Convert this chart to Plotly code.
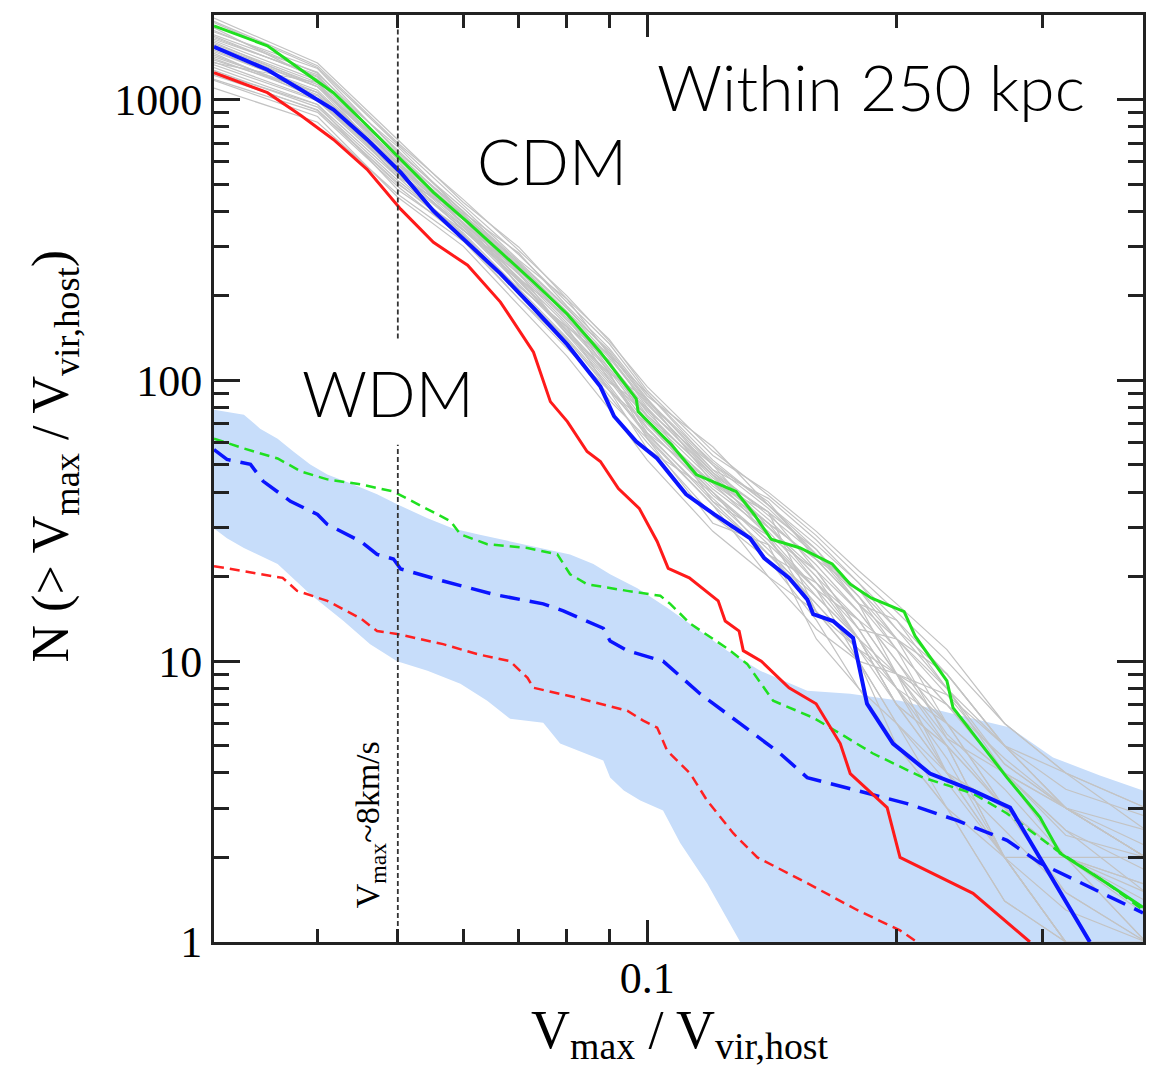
import plotly.graph_objects as go

# ---------------- data ----------------
# CDM median curves (solid)
green_x = [0.0300, 0.0348, 0.0382, 0.0418, 0.0459, 0.0504, 0.0552, 0.0607, 0.0665, 0.0729, 0.0801, 0.0878, 0.0970, 0.0975, 0.1069, 0.1146, 0.1280, 0.1346, 0.1411, 0.1530, 0.1672, 0.1758, 0.1863, 0.2042, 0.2105, 0.2300, 0.2339, 0.2473, 0.2718, 0.2979, 0.3149, 0.3588, 0.3966]
green_y = [1829, 1554, 1277, 1058, 808, 612, 467, 366, 286, 224, 172, 126, 86.0, 77.4, 59.1, 46.2, 40.2, 33.3, 27.2, 25.3, 22.2, 18.8, 16.8, 15.0, 12.3, 8.51, 6.83, 5.52, 3.85, 2.78, 2.07, 1.62, 1.33]

blue_x = [0.0300, 0.0348, 0.0382, 0.0418, 0.0459, 0.0504, 0.0552, 0.0607, 0.0665, 0.0729, 0.0801, 0.0878, 0.0912, 0.0970, 0.1028, 0.1114, 0.1205, 0.1331, 0.1384, 0.1483, 0.1560, 0.1586, 0.1676, 0.1772, 0.1842, 0.1980, 0.2194, 0.2473, 0.2741, 0.3422]
blue_y = [1541, 1277, 1084, 921, 721, 550, 401, 310, 240, 181, 134, 95, 74.5, 60.5, 52.7, 39.3, 33.3, 27.4, 23.3, 19.8, 16.6, 14.7, 13.9, 12.1, 7.05, 5.09, 3.98, 3.46, 3.01, 1.0]

red_x = [0.0300, 0.0348, 0.0382, 0.0418, 0.0459, 0.0504, 0.0552, 0.0607, 0.0665, 0.0729, 0.0764, 0.0801, 0.0846, 0.0878, 0.0923, 0.0978, 0.1028, 0.1060, 0.1124, 0.1218, 0.1242, 0.1291, 0.1306, 0.1373, 0.1483, 0.1599, 0.1710, 0.1758, 0.1948, 0.2019, 0.2473, 0.2897]
red_y = [1246, 1058, 877, 721, 564, 407, 310, 257, 190, 126, 84.0, 71.3, 55.8, 51.4, 41.2, 35.0, 26.7, 21.4, 19.8, 16.4, 13.9, 12.8, 10.9, 10.0, 8.04, 7.05, 5.09, 3.98, 3.01, 2.0, 1.49, 1.0]

# WDM curves (dashed)
gd_x = [0.0300, 0.0326, 0.0358, 0.0382, 0.0411, 0.0451, 0.0494, 0.0528, 0.0579, 0.0595, 0.0641, 0.0717, 0.0779, 0.0807, 0.0846, 0.0946, 0.1037, 0.1066, 0.1127, 0.1249, 0.1320, 0.1419, 0.1586, 0.1710, 0.1873, 0.2152, 0.2473, 0.2718, 0.3123, 0.3588, 0.3966]
gd_y = [62.0, 57.2, 52.7, 47.4, 44.4, 42.6, 40.2, 36.2, 31.5, 28.3, 26.1, 25.3, 24.0, 20.4, 18.8, 17.8, 17.1, 16.0, 13.6, 11.1, 9.78, 7.23, 6.29, 5.52, 4.69, 3.85, 3.38, 2.87, 2.12, 1.62, 1.30]

bd_x = [0.0300, 0.0311, 0.0332, 0.0344, 0.0371, 0.0400, 0.0411, 0.0451, 0.0472, 0.0494, 0.0504, 0.0567, 0.0652, 0.0749, 0.0792, 0.0885, 0.0902, 0.0946, 0.1045, 0.1158, 0.1295, 0.1447, 0.1560, 0.1792, 0.2059, 0.2365, 0.2718, 0.2979, 0.3422, 0.3966]
bd_y = [56.7, 52.3, 50.2, 43.7, 37.1, 33.3, 30.7, 26.7, 24.0, 23.1, 21.3, 19.3, 17.3, 16.0, 15.1, 13.1, 11.8, 10.9, 10.0, 7.66, 5.99, 4.69, 3.85, 3.46, 3.11, 2.71, 2.30, 1.91, 1.57, 1.27]

rd_x = [0.0300, 0.0326, 0.0363, 0.0378, 0.0411, 0.0451, 0.0472, 0.0499, 0.0567, 0.0623, 0.0683, 0.0717, 0.0729, 0.0823, 0.0946, 0.0989, 0.1028, 0.1057, 0.1127, 0.1181, 0.1270, 0.1358, 0.1560, 0.1792, 0.2019, 0.2117]
rd_y = [21.8, 20.9, 19.8, 17.8, 16.4, 14.2, 12.8, 12.5, 11.5, 10.6, 10.0, 8.72, 8.04, 7.41, 6.66, 6.14, 5.80, 4.80, 3.98, 3.19, 2.44, 2.0, 1.62, 1.30, 1.10, 1.0]

# WDM host-to-host scatter band
band_up_x = [0.0300, 0.0326, 0.0341, 0.0358, 0.0374, 0.0392, 0.0411, 0.0442, 0.0472, 0.0499, 0.0543, 0.0583, 0.0624, 0.0683, 0.0749, 0.0807, 0.0861, 0.0902, 0.0973, 0.1057, 0.1158, 0.1249, 0.1369, 0.1560, 0.1758, 0.2019, 0.2385, 0.2741, 0.3089, 0.3519, 0.3966]
band_up_y = [78.6, 75.5, 67.3, 62.0, 55.8, 50.2, 46.2, 42.6, 39.3, 36.2, 32.3, 29.7, 28.3, 26.7, 25.3, 24.0, 22.2, 20.4, 18.2, 15.5, 12.8, 10.9, 9.24, 7.85, 7.66, 7.23, 6.40, 5.80, 4.54, 3.92, 3.46]
band_lo_x = [0.0300, 0.0311, 0.0326, 0.0358, 0.0392, 0.0430, 0.0463, 0.0499, 0.0543, 0.0595, 0.0641, 0.0683, 0.0749, 0.0785, 0.0885, 0.0902, 0.0937, 0.0981, 0.1045, 0.1096, 0.1181, 0.1295, 0.4000]
band_lo_y = [29.7, 27.4, 25.3, 22.2, 17.3, 13.9, 11.5, 10.0, 9.24, 8.31, 7.23, 6.24, 6.04, 5.09, 4.43, 3.85, 3.46, 3.19, 2.94, 2.25, 1.62, 1.0, 0.9]

# individual CDM hosts (grey)
gray_x = [0.03, 0.04, 0.05, 0.06, 0.07, 0.08, 0.09, 0.1, 0.12, 0.14, 0.16, 0.18, 0.2, 0.23, 0.27, 0.32, 0.4]
gray_hosts = [
    [1950, 1349, 719, 430, 298, 195, 140, 92, 54, 40, 29, 21, 16, 11, 6, 4, 3],
    [1740, 1290, 649, 410, 268, 195, 123, 90, 50, 37, 23, 18, 12, 9, 5, 3, 2.5],
    [1549, 1111, 615, 375, 241, 164, 114, 75, 46, 28, 21, 13, 12, 7.6, 4.3, 3, 2],
    [1382, 1060, 529, 392, 216, 155, 118, 70, 43, 31, 19, 14, 9, 5.3, 3, 2, 2],
    [1233, 914, 500, 342, 229, 146, 98, 80, 37, 28, 15, 10, 9, 4, 3, 2, 1.6],
    [1099, 830, 460, 313, 195, 130, 92, 57, 40, 24, 17, 12, 7, 5, 2, 1, 1],
    [1640, 1225, 586, 360, 255, 175, 106, 86, 43, 34, 15, 10, 6, 4, 2, 1, None],
    [1460, 1007, 560, 342, 241, 146, 106, 65, 37, 24, 19, 12, 9, 7.6, 5, 3, 2],
    [1300, 960, 477, 330, 205, 138, 85, 62, 31, 26, 12, 8, 5, 3, 2, 1, None],
    [1170, 870, 449, 300, 185, 122, 79, 52, 29, 20, 13, 10, 5, 3, 1.4, 1, None],
    [1800, 1180, 680, 395, 284, 184, 130, 88, 58, 36, 25, 16, 14, 8, 4.3, 3, 2],
    [1500, 1060, 600, 360, 230, 170, 100, 75, 46, 31, 23, 16, 9, 7, 4, 2.4, 2],
    [1350, 1150, 545, 375, 216, 155, 92, 65, 43, 28, 18, 14, 11, 5.3, 4, 3, 2],
    [1600, 1111, 560, 342, 250, 164, 123, 80, 46, 34, 21, 13, 8, 5, 2, 2, 1.25],
    [1250, 960, 529, 330, 205, 140, 92, 70, 40, 26, 18, 10, 6, 3.7, 2, 1.3, 1],
    [1420, 1060, 586, 375, 230, 150, 106, 62, 36, 20, 15, 11, 9, 6, 3, 2, 1.6],
    [1700, 1250, 620, 400, 260, 175, 128, 86, 48, 38, 27, 19, 14, 9, 5, 4, 2.5],
    [1180, 900, 490, 320, 195, 135, 88, 60, 33, 23, 14, 8, 6, 3, 1.4, 1, None],
    [1520, 1111, 640, 360, 245, 175, 110, 78, 50, 30, 20, 12, 7, 4, 3, 2, 1],
    [1880, 1300, 690, 420, 280, 190, 135, 90, 52, 36, 24, 16, 11, 7, 4, 3, 2],
    [1900, 1320, 700, 440, 290, 200, 138, 95, 56, 39, 28, 20, 15, 10, 6, 4, 3],
    [1680, 1200, 640, 390, 262, 180, 126, 84, 50, 35, 24, 17, 12, 8, 5, 3, 2],
    [1580, 1150, 600, 380, 250, 170, 116, 79, 47, 32, 22, 15, 10, 6, 3, 2, 1.5],
    [1480, 1080, 575, 365, 238, 160, 110, 74, 44, 30, 20, 14, 9, 5, 3, 1.5, 1],
    [1400, 1030, 555, 350, 226, 152, 104, 70, 41, 29, 19, 13, 8, 4, 2, 1, None],
    [1330, 990, 540, 345, 220, 148, 100, 67, 40, 27, 17, 12, 7, 4, 2.5, 1.5, 1],
    [1270, 940, 515, 335, 212, 142, 96, 64, 38, 25, 16, 11, 7, 5, 3, 2, 1],
    [1620, 1170, 610, 385, 255, 172, 120, 82, 48, 33, 24, 18, 13, 8, 4, 2, 1.3],
    [1560, 1130, 590, 372, 245, 167, 115, 77, 45, 31, 23, 16, 12, 6, 4, 2.5, 1.5],
    [1440, 1040, 570, 355, 232, 157, 108, 72, 42, 30, 21, 15, 10, 5.5, 3.5, 2, 1.4],
    [1760, 1240, 660, 398, 265, 182, 125, 85, 51, 36, 26, 19, 13, 9, 5, 3.5, 2.8],
    [1360, 1000, 550, 352, 225, 150, 102, 68, 39, 27, 18, 12, 8, 4.5, 2, 1, None],
    [1220, 920, 505, 328, 208, 140, 94, 63, 36, 24, 16, 11, 8, 6, 4, 2.5, 1.8],
    [1660, 1210, 630, 388, 258, 176, 122, 83, 47, 34, 25, 17, 11, 7, 4.5, 3, 2.2],
]

# Vmax ~ 8 km/s marker
vline_x = 0.05
vline_low = [1, 59]
vline_high = [141, 2000]

# axis ticks
x_major = [0.1]
x_major_text = ["0.1"]
x_minor = [0.04, 0.05, 0.06, 0.07, 0.08, 0.09, 0.2, 0.3]
y_major = [1, 10, 100, 1000]
y_major_text = ["1", "10", "100", "1000"]
y_minor = [2, 3, 4, 5, 6, 7, 8, 9, 20, 30, 40, 50, 60, 70, 80, 90,
           200, 300, 400, 500, 600, 700, 800, 900]

# ---------------- figure ----------------
fig = go.Figure()

fig.add_trace(go.Scatter(
    x=band_up_x + band_lo_x[::-1], y=band_up_y + band_lo_y[::-1],
    fill="toself", fillcolor="rgb(199,221,250)", line=dict(width=0),
    mode="lines", hoverinfo="skip", showlegend=False))

for host in gray_hosts:
    fig.add_trace(go.Scatter(x=gray_x, y=host, mode="lines",
                             line=dict(color="rgb(195,195,195)", width=1.2),
                             showlegend=False, hoverinfo="skip"))

fig.add_trace(go.Scatter(x=gd_x, y=gd_y, mode="lines",
                         line=dict(color="#1fe01f", width=2.5, dash="10px,6px"),
                         showlegend=False))
fig.add_trace(go.Scatter(x=bd_x, y=bd_y, mode="lines",
                         line=dict(color="#0a14ff", width=3.5, dash="20px,10px"),
                         showlegend=False))
fig.add_trace(go.Scatter(x=rd_x, y=rd_y, mode="lines",
                         line=dict(color="#ff2020", width=2.5, dash="10px,6px"),
                         showlegend=False))

fig.add_trace(go.Scatter(x=red_x, y=red_y, mode="lines",
                         line=dict(color="#ff1a1a", width=3), showlegend=False))
fig.add_trace(go.Scatter(x=green_x, y=green_y, mode="lines",
                         line=dict(color="#1fe01f", width=3), showlegend=False))
fig.add_trace(go.Scatter(x=blue_x, y=blue_y, mode="lines",
                         line=dict(color="#0a14ff", width=4), showlegend=False))

for seg in (vline_low, vline_high):
    fig.add_trace(go.Scatter(x=[vline_x, vline_x], y=seg, mode="lines",
                             line=dict(color="#333333", width=1.8, dash="5px,3px"),
                             showlegend=False, hoverinfo="skip"))

axis_common = dict(
    type="log", showgrid=False, zeroline=False,
    showline=True, linecolor="#222222", linewidth=3, mirror="ticks",
    ticks="inside", tickcolor="#222222", tickwidth=2.5,
    tickfont=dict(family="Liberation Serif", size=44, color="black"),
)

fig.update_xaxes(**axis_common, range=[-1.5229, -0.4016],
                 tickmode="array", tickvals=x_major, ticktext=x_major_text, ticklen=22,
                 ticklabelstandoff=-5,
                 minor=dict(tickmode="array", tickvals=x_minor, ticks="inside",
                            ticklen=13, tickwidth=2.5, tickcolor="#222222"))
fig.update_yaxes(**axis_common, range=[0, 3.30103],
                 tickmode="array", tickvals=y_major, ticktext=y_major_text, ticklen=26,
                 minor=dict(tickmode="array", tickvals=y_minor, ticks="inside",
                            ticklen=15, tickwidth=2.5, tickcolor="#222222"))

label_font = dict(family="Lato", size=64, color="black", weight=300)
ann = [
    dict(text="Within 250 kpc", x=0.707, y=0.923, font=label_font),
    dict(text="CDM", x=0.364, y=0.843, font=label_font),
    dict(text="WDM", x=0.187, y=0.593, font=label_font),
    dict(text="V<sub>max</sub>~8km/s", x=0.168, y=0.126, textangle=-90,
         font=dict(family="Liberation Serif", size=34, color="black")),
    dict(text="V<sub>max</sub> / V<sub>vir,host</sub>", x=0.5016, y=-0.099,
         font=dict(family="Liberation Serif", size=54, color="black")),
    dict(text="N (> V<sub>max</sub> / V<sub>vir,host</sub>)", x=-0.172, y=0.524,
         textangle=-90, font=dict(family="Liberation Serif", size=52, color="black")),
]
for a in ann:
    a.update(xref="paper", yref="paper", showarrow=False,
             xanchor="center", yanchor="middle")
fig.update_layout(annotations=ann)

# the page body adds an 8px margin, so the figure is sized to fit the window
fig.update_layout(
    width=1154, height=1062,
    margin=dict(l=206, r=19, t=4, b=128),
    paper_bgcolor="white", plot_bgcolor="white",
    showlegend=False,
)

fig.write_html("out.html")
